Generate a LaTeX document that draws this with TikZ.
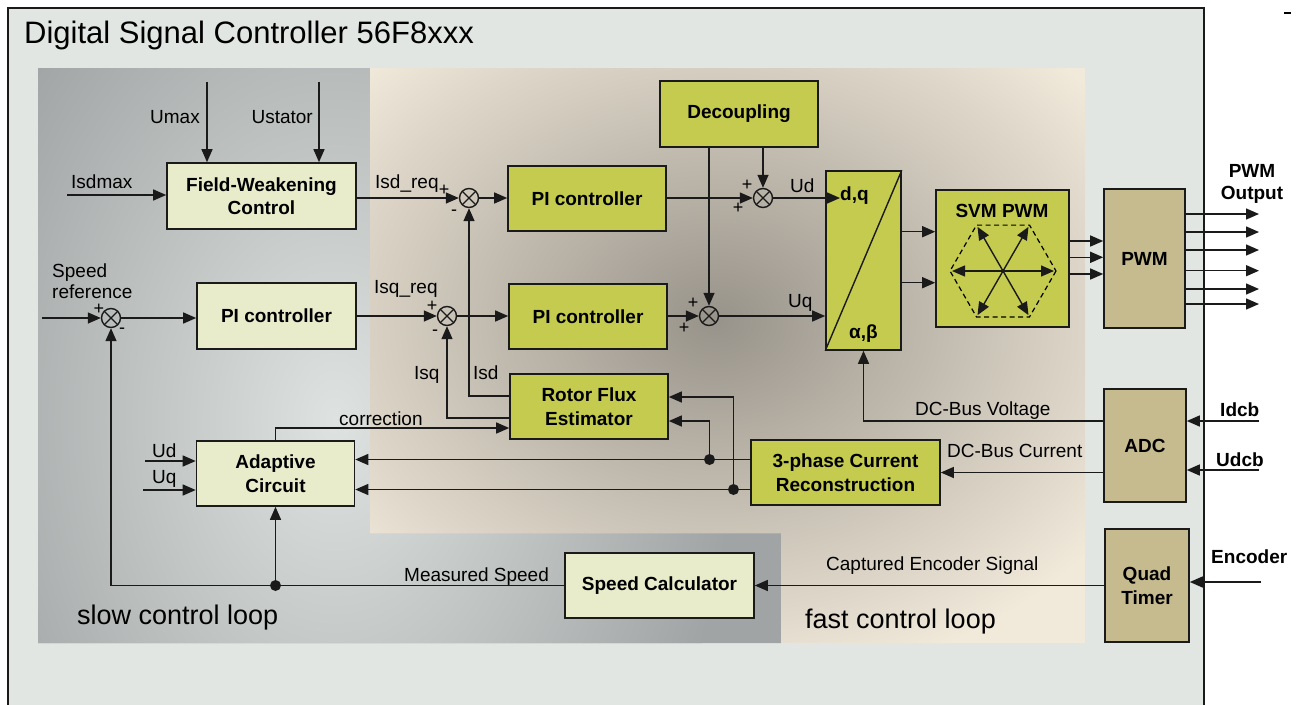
\documentclass[tikz,border=0pt]{standalone}
\usepackage{fontspec}
\setmainfont{Liberation Sans}
\usetikzlibrary{arrows.meta,calc}

\definecolor{framebg}{HTML}{E1E6E2}
\definecolor{creamc}{HTML}{E9ECCB}
\definecolor{greenc}{HTML}{C4CB4F}
\definecolor{tanc}{HTML}{C6BA8F}
\definecolor{beigec}{HTML}{F1E9DA}
\definecolor{blotch}{HTML}{98938A}
\definecolor{slowdark}{HTML}{A0A4A4}
\definecolor{slowlight}{HTML}{DEE3E1}
\definecolor{inkc}{HTML}{1A1A1A}

\tikzset{
  wire/.style={line width=1.4pt, draw=inkc},
  arr/.style={wire, -{Triangle[length=13pt,width=11pt]}},
  dblarr/.style={wire, {Triangle[length=13pt,width=11pt]}-{Triangle[length=13pt,width=11pt]}},
  blk/.style={draw=inkc, line width=1.6pt, font=\fontsize{19}{23.5}\selectfont\bfseries,
              align=center, inner sep=0pt},
  creamblk/.style={blk, fill=creamc},
  greenblk/.style={blk, fill=greenc},
  tanblk/.style={blk, fill=tanc},
  lbl/.style={inner sep=0pt, anchor=base west, font=\fontsize{19}{23}\selectfont},
  blbl/.style={lbl, font=\fontsize{19}{23}\selectfont\bfseries},
  sgn/.style={inner sep=0pt, font=\fontsize{18}{18}\selectfont},
  sumj/.style={circle, draw=inkc, line width=1.4pt, minimum size=19pt, inner sep=0pt,
    path picture={\draw[line width=1.3pt, inkc]
      (path picture bounding box.north west) -- (path picture bounding box.south east)
      (path picture bounding box.south west) -- (path picture bounding box.north east);}},
  jdot/.style={circle, fill=inkc, inner sep=0pt, minimum size=11pt},
}

\begin{document}
\begin{tikzpicture}[x=1pt,y=-1pt]
\useasboundingbox (0,0) rectangle (1297,704);
\fill[white] (0,0) rectangle (1297,704);

% controller outline
\draw[fill=framebg, draw=inkc, line width=1.5pt] (8,8) rectangle (1204,716);
\node[inner sep=0pt, anchor=base west, font=\fontsize{31}{36}\selectfont] (title) at (24,43)
  {Digital Signal Controller 56F8xxx};
\draw[line width=2.5pt] (1284,13) -- (1291,13);

% slow loop area
\begin{scope}
  \clip (38,68) -- (370,68) -- (370,533) -- (781,533) -- (781,643) -- (38,643) -- cycle;
  \fill[slowdark] (0,0) rectangle (1297,704);
  \shade[inner color=slowlight, outer color=slowdark] (335,420) ellipse [x radius=400pt, y radius=560pt];
\end{scope}
% fast loop area
\begin{scope}
  \clip (370,68) -- (1085,68) -- (1085,643) -- (781,643) -- (781,533) -- (370,533) -- cycle;
  \fill[beigec] (0,0) rectangle (1297,704);
  \shade[inner color=blotch, outer color=beigec] (715,320) ellipse [x radius=480pt, y radius=370pt];
\end{scope}

\node[lbl, font=\fontsize{27}{30}\selectfont] (slowlbl) at (77,624) {slow control loop};
\node[lbl, font=\fontsize{27}{30}\selectfont] (fastlbl) at (805,628) {fast control loop};

% blocks
\node[creamblk, minimum width=189pt, minimum height=66pt] (fw)  at (261.5,196) {Field-Weakening\\Control};
\node[creamblk, minimum width=159pt, minimum height=66pt] (pis) at (276.5,316) {PI controller};
\node[creamblk, minimum width=158pt, minimum height=65pt] (ada) at (275.5,473.5) {Adaptive\\Circuit};
\node[creamblk, minimum width=189pt, minimum height=65pt] (spd) at (659.5,585.5) {Speed Calculator};
\node[greenblk, minimum width=158pt, minimum height=65pt] (pid) at (587,198.5) {PI controller};
\node[greenblk, minimum width=158pt, minimum height=65pt] (piq) at (588,316.5) {PI controller};
\node[greenblk, minimum width=158pt, minimum height=66pt] (dec) at (739,114) {Decoupling};
\node[greenblk, minimum width=75pt, minimum height=179pt] (dq) at (863.5,260.5) {};
\node[greenblk, minimum width=133pt, minimum height=137pt] (svm) at (1002.5,258.5) {};
\node[greenblk, minimum width=158pt, minimum height=65pt] (rfe) at (589,406.5) {Rotor Flux\\Estimator};
\node[greenblk, minimum width=189pt, minimum height=65pt] (cur) at (845.5,472.5) {3-phase Current\\Reconstruction};
\node[tanblk, minimum width=81pt, minimum height=139pt] (pwm) at (1144.5,258.5) {PWM};
\node[tanblk, minimum width=82pt, minimum height=113pt] (adc) at (1145,445.5) {ADC};
\node[tanblk, minimum width=84pt, minimum height=113pt] (qt)  at (1147,585.5) {Quad\\Timer};

% d,q / alpha,beta transform
\draw[wire] (dq.south west) -- (dq.north east);
\node[blbl] (dqlbl) at (840,200) {d,q};
\node[blbl] (ablbl) at (849,338) {α,β};

% space vector hexagon
\node[inner sep=0pt, font=\fontsize{19}{23}\selectfont\bfseries] (svmlbl) at (1002,211) {SVM PWM};
\coordinate (hc) at (1003,271);
\draw[line width=1.2pt, dash pattern=on 5pt off 3.5pt]
  ([shift={(0:53)}]hc) -- ([shift={(60:53)}]hc) -- ([shift={(120:53)}]hc) --
  ([shift={(180:53)}]hc) -- ([shift={(240:53)}]hc) -- ([shift={(300:53)}]hc) -- cycle;
\foreach \a in {0,60,120}
  \draw[dblarr] ([shift={(\a:51)}]hc) -- ([shift={(\a+180:51)}]hc);

% summing junctions
\node[sumj] (ss)  at (111,318) {};
\node[sumj] (sd)  at (469,198) {};
\node[sumj] (sq)  at (447,316) {};
\node[sumj] (sud) at (763,198) {};
\node[sumj] (suq) at (709,316) {};

\node[sgn] at (99,309) {+};   \node[sgn] at (122,331) {-};
\node[sgn] at (444,190) {+};  \node[sgn] at (454,213) {-};
\node[sgn] at (432,306) {+};  \node[sgn] at (435,333) {-};
\node[sgn] at (747,185) {+};  \node[sgn] at (738,208) {+};
\node[sgn] at (693,303) {+};  \node[sgn] at (684,328) {+};

% external inputs
\coordinate (umaxin) at (207,82);
\coordinate (ustin) at (319,82);
\coordinate (isdmaxin) at (67,195);
\coordinate (spdin) at (42,318);
\coordinate (udin) at (145,461);
\coordinate (uqin) at (143,490);
\coordinate (idcbin) at (1259,421);
\coordinate (udcbin) at (1259,470);
\coordinate (encin) at (1261,582);

\draw[arr] (umaxin) -- (umaxin |- fw.north);
\draw[arr] (ustin) -- (ustin |- fw.north);
\draw[arr] (isdmaxin) -- (isdmaxin -| fw.west);
\draw[arr] (spdin) -- (ss.west);
\draw[arr] (udin) -- (udin -| ada.west);
\draw[arr] (uqin) -- (uqin -| ada.west);
\draw[arr] (idcbin) -- (idcbin -| adc.east);
\draw[arr] (udcbin) -- (udcbin -| adc.east);
\draw[arr] (encin) -- (encin -| qt.east);

\node[lbl, anchor=base east] at (200,123) {Umax};
\node[lbl, anchor=base east] at (313,123) {Ustator};
\node[lbl] at (71,188) {Isdmax};
\node[lbl] at (52,277) {Speed};
\node[lbl] at (52,298) {reference};
\node[lbl] at (152,457) {Ud};
\node[lbl] at (152,483) {Uq};
\node[blbl] at (1220,416) {Idcb};
\node[blbl] at (1216,466) {Udcb};
\node[blbl] at (1211,563) {Encoder};
\node[inner sep=0pt, align=center, font=\fontsize{19}{22.5}\selectfont\bfseries] (pwmout) at (1252,184) {PWM\\Output};

% speed loop
\draw[arr] (ss.east) -- (ss.east -| pis.west);
\draw[arr] (pis.east |- sq.west) -- (sq.west);
\draw[arr] (fw.east |- sd.west) -- (sd.west);
\node[lbl] at (375,188) {Isd\_req};
\node[lbl] at (374,293) {Isq\_req};

% current loops
\draw[arr] (sd.east) -- (sd.east -| pid.west);
\draw[arr] (sq.east) -- (sq.east -| piq.west);
\draw[arr] (pid.east |- sud.west) -- (sud.west);
\draw[arr] (piq.east |- suq.west) -- (suq.west);
\draw[arr] (dec.south -| sud.north) -- (sud.north);
\draw[arr] (dec.south -| suq.north) -- (suq.north);
\coordinate (dqin) at (840,198);
\draw[arr] (sud.east) -- (dqin);
\draw[arr] (suq.east) -- (suq.east -| dq.west);
\node[lbl] at (790,192) {Ud};
\node[lbl] at (788,307) {Uq};

% transform to modulator to PWM
\coordinate (a1) at (0,231.7);
\coordinate (a2) at (0,282.7);
\draw[arr] (dq.east |- a1) -- (svm.west |- a1);
\draw[arr] (dq.east |- a2) -- (svm.west |- a2);
\foreach \y [count=\i] in {241,257.3,274} {
  \coordinate (b\i) at (0,\y);
  \draw[arr] (svm.east |- b\i) -- (pwm.west |- b\i);
}
\foreach \y [count=\i] in {214,232,250,270.7,289,304} {
  \coordinate (o\i) at (1259,\y);
  \draw[arr] (pwm.east |- o\i) -- (o\i);
}

% DC bus measurements
\coordinate (vbus) at (0,421);
\draw[arr] (adc.west |- vbus) -| (dq.south);
\draw[arr] (adc.west |- cur.east) -- (cur.east);
\node[lbl] at (915,415) {DC-Bus Voltage};
\node[lbl] at (947,457) {DC-Bus Current};

% flux estimator
\coordinate (isdy) at (0,396);
\coordinate (isqy) at (0,418);
\coordinate (cory) at (0,428);
\draw[arr] (rfe.west |- isdy) -| (sd.south);
\draw[arr] (rfe.west |- isqy) -| (sq.south);
\draw[arr] (ada.north) |- (rfe.west |- cory);
\node[lbl] at (473,379) {Isd};
\node[lbl] at (414,379) {Isq};
\node[lbl] at (339,425) {correction};

% reconstructed currents
\coordinate (c1) at (0,459.5);
\coordinate (c2) at (0,489.5);
\coordinate (r1) at (0,397);
\coordinate (r2) at (0,421);
\draw[arr] (cur.west |- c1) -- (ada.east |- c1);
\draw[arr] (cur.west |- c2) -- (ada.east |- c2);
\node[jdot] (j1) at (709.5,459.5) {};
\node[jdot] (j2) at (733.5,489.5) {};
\draw[arr] (j1.center) |- (rfe.east |- r2);
\draw[arr] (j2.center) |- (rfe.east |- r1);

% speed measurement
\draw[arr] (qt.west |- spd.east) -- (spd.east);
\draw[arr] (spd.west) -| (ss.south);
\node[jdot] (jm) at (ada.south |- spd.west) {};
\draw[arr] (jm.center) -- (ada.south);
\node[lbl] at (404,581) {Measured Speed};
\node[lbl] at (826,570) {Captured Encoder Signal};
\end{tikzpicture}
\end{document}
